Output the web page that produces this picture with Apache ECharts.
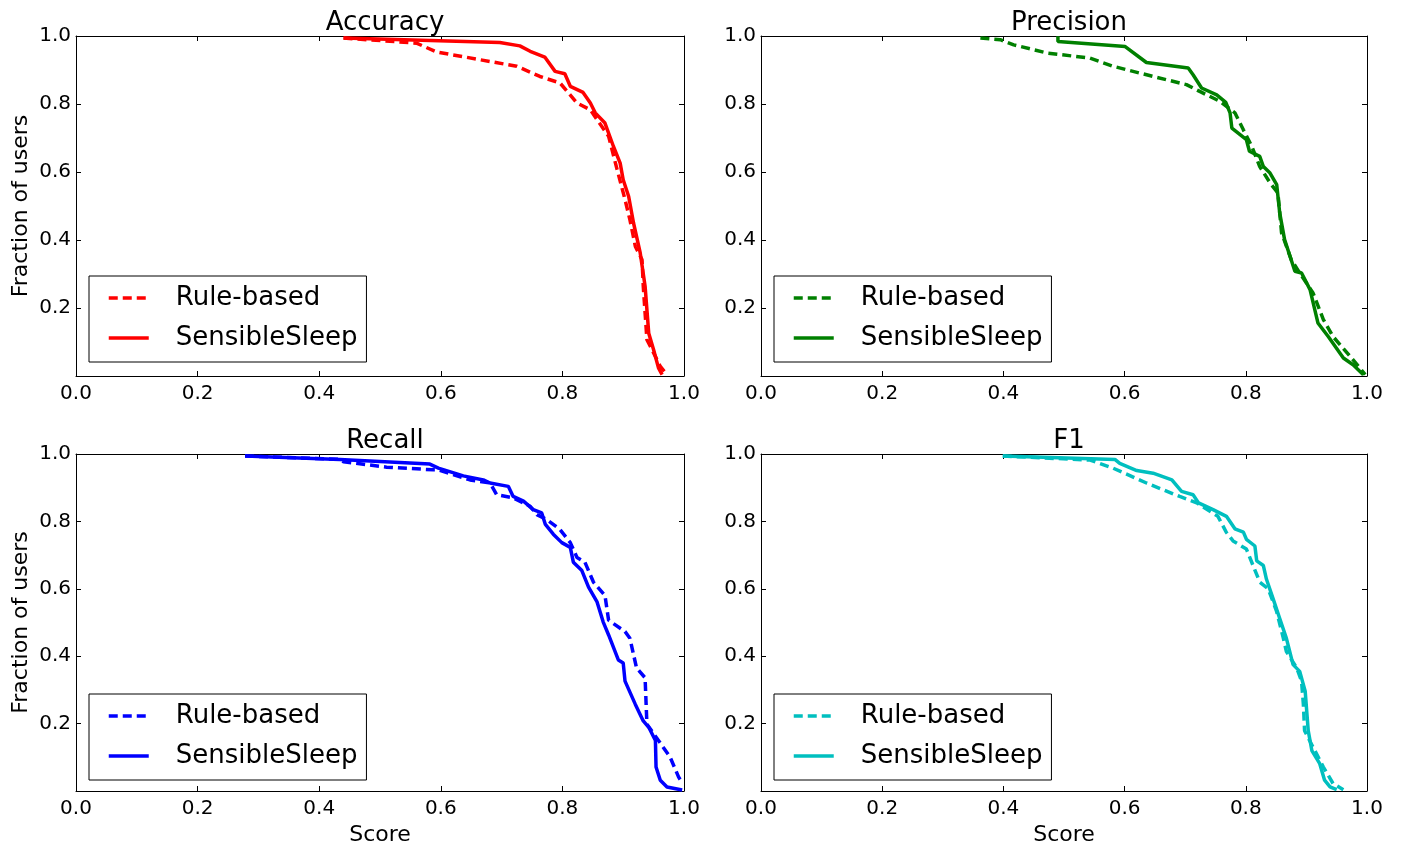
<!DOCTYPE html>
<html>
<head>
<meta charset="utf-8">
<script src="https://cdn.jsdelivr.net/npm/echarts@6/dist/echarts.min.js"></script>
<style>html,body{margin:0;padding:0;background:#fff;}#c{width:1401px;height:847px;}</style>
</head>
<body>
<div id="c"></div>
<script>
const panelTitles = ['Accuracy', 'Precision', 'Recall', 'F1'];
const seriesLabels = ['Rule-based', 'SensibleSleep'];
const panelColors = ['#ff0000', '#008000', '#0000ff', '#00bfbf'];
const tickValues = [0.0, 0.2, 0.4, 0.6, 0.8, 1.0];

const accuracyRule = [[0.44,0.994],[0.56,0.979],[0.593,0.953],[0.659,0.932],[0.725,0.911],[0.763,0.881],[0.796,0.862],[0.824,0.803],[0.846,0.783],[0.857,0.754],[0.876,0.705],[0.89,0.607],[0.903,0.519],[0.911,0.46],[0.92,0.381],[0.931,0.342],[0.933,0.264],[0.936,0.185],[0.939,0.107],[0.95,0.068],[0.961,0.028],[0.972,0.004]];
const accuracySS = [[0.44,0.994],[0.697,0.981],[0.73,0.971],[0.747,0.955],[0.771,0.938],[0.788,0.896],[0.804,0.889],[0.813,0.852],[0.834,0.834],[0.846,0.803],[0.854,0.774],[0.87,0.744],[0.884,0.675],[0.895,0.626],[0.9,0.577],[0.909,0.528],[0.917,0.45],[0.928,0.362],[0.936,0.264],[0.942,0.126],[0.95,0.077],[0.958,0.024],[0.964,0.004]];

const precisionRule = [[0.362,0.994],[0.395,0.989],[0.417,0.974],[0.472,0.95],[0.543,0.935],[0.581,0.911],[0.647,0.881],[0.702,0.857],[0.724,0.837],[0.757,0.808],[0.782,0.774],[0.796,0.724],[0.81,0.675],[0.823,0.616],[0.84,0.568],[0.853,0.538],[0.859,0.421],[0.875,0.342],[0.889,0.303],[0.911,0.244],[0.928,0.166],[0.944,0.116],[0.972,0.058],[0.988,0.024],[0.997,0.004]];
const precisionSS = [[0.49,0.999],[0.49,0.984],[0.601,0.969],[0.636,0.922],[0.705,0.906],[0.713,0.886],[0.727,0.847],[0.752,0.827],[0.767,0.805],[0.774,0.774],[0.777,0.729],[0.801,0.695],[0.806,0.661],[0.823,0.646],[0.829,0.616],[0.84,0.597],[0.851,0.563],[0.856,0.479],[0.864,0.401],[0.873,0.352],[0.881,0.308],[0.892,0.303],[0.906,0.254],[0.919,0.156],[0.936,0.116],[0.961,0.053],[0.977,0.033],[0.994,0.004]];

const recallRule = [[0.278,0.994],[0.434,0.984],[0.44,0.977],[0.511,0.961],[0.588,0.953],[0.596,0.953],[0.648,0.923],[0.681,0.914],[0.692,0.879],[0.719,0.87],[0.747,0.845],[0.758,0.82],[0.774,0.806],[0.796,0.776],[0.813,0.737],[0.824,0.693],[0.837,0.679],[0.851,0.62],[0.87,0.58],[0.876,0.507],[0.903,0.473],[0.911,0.453],[0.922,0.365],[0.936,0.336],[0.939,0.198],[0.958,0.15],[0.977,0.101],[0.991,0.042],[0.995,0.03]];
const recallSS = [[0.278,0.994],[0.434,0.984],[0.582,0.97],[0.596,0.958],[0.637,0.935],[0.67,0.923],[0.681,0.914],[0.711,0.904],[0.719,0.874],[0.736,0.86],[0.752,0.835],[0.766,0.825],[0.772,0.791],[0.785,0.762],[0.799,0.737],[0.813,0.723],[0.818,0.679],[0.832,0.654],[0.843,0.605],[0.857,0.561],[0.867,0.502],[0.876,0.463],[0.892,0.389],[0.9,0.38],[0.903,0.326],[0.92,0.257],[0.933,0.208],[0.942,0.189],[0.953,0.15],[0.954,0.071],[0.961,0.032],[0.972,0.012],[0.997,0.003]];

const f1Rule = [[0.399,0.994],[0.543,0.982],[0.581,0.958],[0.636,0.914],[0.691,0.874],[0.719,0.855],[0.754,0.815],[0.768,0.767],[0.779,0.742],[0.801,0.718],[0.812,0.669],[0.823,0.62],[0.837,0.6],[0.851,0.532],[0.862,0.453],[0.867,0.414],[0.884,0.365],[0.892,0.326],[0.895,0.257],[0.897,0.179],[0.911,0.13],[0.928,0.071],[0.944,0.022],[0.961,0.004]];
const f1SS = [[0.399,0.994],[0.584,0.984],[0.592,0.972],[0.62,0.951],[0.647,0.943],[0.678,0.923],[0.694,0.889],[0.713,0.879],[0.722,0.855],[0.746,0.835],[0.768,0.815],[0.782,0.778],[0.796,0.768],[0.801,0.747],[0.815,0.727],[0.818,0.683],[0.829,0.669],[0.834,0.629],[0.845,0.571],[0.856,0.512],[0.867,0.453],[0.878,0.375],[0.889,0.355],[0.898,0.296],[0.903,0.179],[0.909,0.12],[0.922,0.081],[0.93,0.032],[0.939,0.012],[0.95,0.004]];

const panelData = [[accuracyRule, accuracySS],[precisionRule, precisionSS],[recallRule, recallSS],[f1Rule, f1SS]];

const FONT = 'DejaVu Sans';
const grids = [
  {left: 76, top: 36, width: 608, height: 340},
  {left: 761, top: 36, width: 606, height: 340},
  {left: 76, top: 454, width: 608, height: 340},
  {left: 761, top: 454, width: 606, height: 340}
];
const fmt = v => v.toFixed(1);
const xAxes = [], yAxes = [], series = [], legends = [], titles = [], nameMap = {};
grids.forEach((g, i) => {
  const isBottom = i >= 2, isLeft = i % 2 === 0;
  xAxes.push({
    type: 'value', gridIndex: i, min: 0, max: 1, interval: 0.2, position: 'bottom',
    name: isBottom ? 'Score' : '', nameLocation: 'middle', nameGap: 33,
    nameTextStyle: {fontFamily: FONT, fontSize: 22, color: '#000'},
    axisLine: {show: true, onZero: false, lineStyle: {color: '#000', width: 1}},
    axisTick: {show: true, inside: true, length: 5, lineStyle: {color: '#000'}},
    axisLabel: {fontFamily: FONT, fontSize: 20, color: '#000', margin: 8, formatter: fmt},
    splitLine: {show: false}
  });
  xAxes.push({
    type: 'value', gridIndex: i, min: 0, max: 1, interval: 0.2, position: 'top',
    axisLine: {show: true, onZero: false, lineStyle: {color: '#000', width: 1}},
    axisTick: {show: true, inside: true, length: 5, lineStyle: {color: '#000'}},
    axisLabel: {show: false}, splitLine: {show: false}
  });
  yAxes.push({
    type: 'value', gridIndex: i, min: 0, max: 1, interval: 0.2, position: 'left',
    name: isLeft ? 'Fraction of users' : '', nameLocation: 'middle', nameGap: 44, nameRotate: 90,
    nameTextStyle: {fontFamily: FONT, fontSize: 22, color: '#000'},
    axisLine: {show: true, onZero: false, lineStyle: {color: '#000', width: 1}},
    axisTick: {show: true, inside: true, length: 5, lineStyle: {color: '#000'}},
    axisLabel: {fontFamily: FONT, fontSize: 20, color: '#000', margin: 5,
      formatter: v => (v === 0 ? '' : fmt(v))},
    splitLine: {show: false}
  });
  yAxes.push({
    type: 'value', gridIndex: i, min: 0, max: 1, interval: 0.2, position: 'right',
    axisLine: {show: true, onZero: false, lineStyle: {color: '#000', width: 1}},
    axisTick: {show: true, inside: true, length: 5, lineStyle: {color: '#000'}},
    axisLabel: {show: false}, splitLine: {show: false}
  });
  titles.push({
    text: panelTitles[i], left: g.left + g.width / 2, top: g.top - 31, textAlign: 'center',
    textStyle: {fontFamily: FONT, fontSize: 26, fontWeight: 'normal', color: '#000'}
  });
  const names = [];
  [0, 1].forEach(k => {
    const nm = 'p' + i + 's' + k;
    nameMap[nm] = seriesLabels[k];
    names.push(nm);
    series.push({
      name: nm, type: 'line', xAxisIndex: 2 * i, yAxisIndex: 2 * i,
      data: panelData[i][k], showSymbol: false, symbol: 'none', smooth: false,
      lineStyle: {color: panelColors[i], width: 3.5, type: k === 0 ? [9, 5] : 'solid'},
      itemStyle: {color: panelColors[i]}, z: k === 0 ? 3 : 2, animation: false
    });
  });
  legends.push({
    data: names, orient: 'vertical', left: g.left + 13, top: g.top + 240,
    borderColor: '#000', borderWidth: 1, padding: [7, 9, 9, 18], itemGap: 10,
    itemWidth: 40, itemHeight: 14, selectedMode: false,
    itemStyle: {opacity: 0},
    lineStyle: {width: 3.5},
    formatter: n => nameMap[n],
    textStyle: {fontFamily: FONT, fontSize: 26, color: '#000', lineHeight: 30, padding: [0, 0, 0, 22]}
  });
});

const chart = echarts.init(document.getElementById('c'));
chart.setOption({
  backgroundColor: '#fff',
  animation: false,
  title: titles,
  grid: grids,
  xAxis: xAxes,
  yAxis: yAxes,
  legend: legends,
  series: series
});
</script>
</body>
</html>
